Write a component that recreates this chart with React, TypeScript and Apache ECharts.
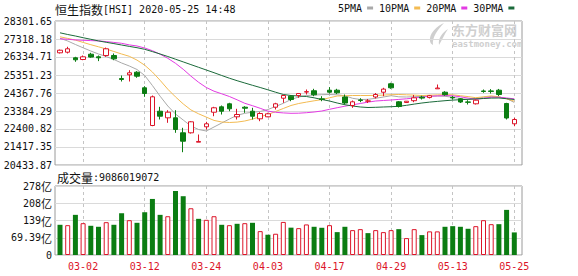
import React, { useEffect, useRef } from "react";
import * as echarts from "echarts";

// Trading days (MM-DD), 2020-02-26 .. 2020-05-25
const DATES = [
  "02-26", "02-27", "02-28",
  "03-02", "03-03", "03-04", "03-05", "03-06",
  "03-09", "03-10", "03-11", "03-12", "03-13",
  "03-16", "03-17", "03-18", "03-19", "03-20",
  "03-23", "03-24", "03-25", "03-26", "03-27",
  "03-30", "03-31", "04-01", "04-02", "04-03",
  "04-06", "04-07", "04-08", "04-09",
  "04-14", "04-15", "04-16", "04-17",
  "04-20", "04-21", "04-22", "04-23", "04-24",
  "04-27", "04-28", "04-29",
  "05-04", "05-05", "05-06", "05-07", "05-08",
  "05-11", "05-12", "05-13", "05-14", "05-15",
  "05-18", "05-19", "05-20", "05-21", "05-22",
  "05-25",
];

const OPEN = [
  26564, 26597, 26291, 26198, 26488, 26345, 26417, 26417, 25160, 25362,
  25504, 24652, 22592, 23373, 23012, 23012, 22193, 22193, 21680, 22521,
  23318, 23613, 23777, 23067, 23592, 23373, 22958, 23067, 23592, 24083,
  24193, 24231, 24420, 24490, 24051, 24521, 24521, 24150, 23684, 23990,
  23920, 24150, 24411, 24870, 23887, 23850, 23947, 24140, 24120, 24597,
  24411, 24130, 24051, 23880, 23777, 24480, 24480, 24521, 23794, 22685,
];
const CLOSE = [
  26706, 26783, 26182, 26345, 26330, 26291, 26783, 26236, 25105, 25471,
  25286, 24340, 24160, 23100, 23318, 22373, 21734, 22794, 21720, 22685,
  23559, 23373, 23504, 23193, 23537, 23100, 23247, 23231, 23777, 24231,
  24012, 24340, 24440, 24269, 24012, 24411, 24379, 23820, 23887, 23958,
  23935, 24286, 24580, 24652, 23630, 23919, 24105, 24090, 24220, 24640,
  24275, 24100, 23876, 23860, 23974, 24450, 24455, 24286, 23001, 22920,
];
const LOW = [
  26526, 26526, 26072, 26160, 26291, 26110, 26345, 26160, 24996, 24996,
  25200, 24160, 22554, 22920, 22739, 22193, 21133, 22150, 21680, 22373,
  23100, 23193, 23373, 22920, 23285, 22920, 22827, 23050, 23466, 23832,
  23919, 24105, 24286, 24193, 23919, 24340, 24310, 23739, 23559, 23865,
  23820, 24067, 24193, 24597, 23575, 23820, 23865, 24012, 24070, 24597,
  24220, 24012, 23820, 23739, 23739, 24379, 24340, 24200, 22920, 22554,
];
const HIGH = [
  26740, 26893, 26345, 26417, 26564, 26417, 26850, 26526, 25324, 25613,
  25560, 24739, 24231, 23613, 23428, 23428, 22466, 22827, 22100, 22794,
  23613, 23684, 23832, 23504, 23646, 23559, 23318, 23285, 23832, 24269,
  24231, 24350, 24559, 24597, 24193, 24690, 24597, 24286, 23958, 24083,
  24040, 24367, 24652, 24925, 23930, 23930, 24260, 24220, 24260, 24832,
  24466, 24200, 24095, 23974, 24012, 24559, 24580, 24590, 23832, 23012,
];

// Turnover per day
const VOLUME = [
  12150000000, 12000000000, 16150000000, 12800000000, 11750000000,
  11350000000, 13200000000, 12150000000, 16800000000, 14000000000,
  12950000000, 17200000000, 22550000000, 16150000000, 15600000000,
  25750000000, 23650000000, 18800000000, 14550000000, 14150000000,
  15600000000, 12150000000, 12000000000, 12550000000, 12800000000,
  12950000000, 9600000000, 8150000000, 8550000000, 13300000000,
  11000000000, 10800000000, 12300000000, 11350000000, 10950000000,
  12000000000, 9200000000, 11350000000, 10000000000, 10400000000,
  8800000000, 10000000000, 9200000000, 10000000000, 10400000000,
  6800000000, 10400000000, 8000000000, 9500000000, 9500000000,
  11350000000, 11600000000, 11350000000, 10550000000, 11600000000,
  14000000000, 12400000000, 12400000000, 18150000000, 9086019072,
];
// 1 = closed above the previous close (hollow red), 0 = below (solid green)
const VOLUME_UP = [
  0, 1, 0, 1, 0, 0, 1, 0, 0, 1,
  0, 0, 0, 0, 1, 0, 0, 1, 0, 1,
  1, 0, 1, 0, 1, 0, 1, 0, 1, 1,
  0, 1, 1, 0, 0, 1, 0, 0, 1, 1,
  0, 1, 1, 1, 0, 1, 1, 0, 1, 1,
  0, 0, 0, 0, 1, 1, 1, 0, 0, 0,
];

const MA5 = [
  27356, 27209, 27018, 26837, 26662, 26499, 26362, 26198, 26007, 25843,
  25652, 25324, 24777, 24193, 23657, 23220, 22892, 22564, 22373, 22291,
  22510, 22728, 22947, 23149, 23258, 23318, 23357, 23466, 23630, 23805,
  24012, 24149, 24231, 24258, 24275, 24286, 24269, 24215, 24078, 24012,
  24023, 24078, 24149, 24220, 24160, 24149, 24165, 24187, 24193, 24204,
  24187, 24133, 24067, 24012, 24067, 24133, 24182, 24149, 24067, 23849,
];
const MA10 = [
  27438, 27351, 27258, 27132, 27007, 26892, 26772, 26635, 26499, 26373,
  26165, 25887, 25515, 25061, 24575, 24154, 23772, 23444, 23231, 23051,
  22870, 22783, 22756, 22778, 22838, 22941, 23073, 23193, 23357, 23521,
  23685, 23794, 23870, 23941, 24007, 24105, 24204, 24215, 24231, 24231,
  24231, 24236, 24253, 24275, 24286, 24269, 24253, 24231, 24247, 24264,
  24280, 24269, 24220, 24171, 24111, 24160, 24209, 24160, 24051, 23920,
];
const MA20 = [
  27329, 27302, 27269, 27247, 27231, 27214, 27176, 27132, 27083, 26996,
  26936, 26826, 26679, 26488, 26264, 25990, 25663, 25291, 24952, 24668,
  24466, 24324, 24176, 23996, 23805, 23674, 23532, 23379, 23313, 23280,
  23258, 23264, 23291, 23329, 23384, 23477, 23564, 23646, 23723, 23794,
  23870, 23930, 23958, 23985, 24018, 24051, 24094, 24144, 24187, 24209,
  24226, 24215, 24160, 24089, 24023, 24078, 24138, 24138, 24094, 24051,
];
const MA30 = [
  27657, 27564, 27482, 27389, 27302, 27214, 27138, 27067, 26990, 26914,
  26843, 26755, 26630, 26499, 26362, 26214, 26067, 25919, 25772, 25624,
  25477, 25324, 25176, 25040, 24914, 24788, 24668, 24542, 24411, 24286,
  24231, 24204, 24176, 24105, 24012, 23930, 23821, 23728, 23657, 23603,
  23575, 23586, 23603, 23619, 23641, 23695, 23761, 23821, 23870, 23909,
  23947, 23980, 24002, 24023, 24045, 24067, 24089, 24094, 24056, 24012,
];

const MA_NAMES = ["5PMA", "10PMA", "20PMA", "30PMA"];
const PRICE_TICKS = [
  20433.87, 21417.35, 22400.82, 23384.29, 24367.76,
  25351.23, 26334.71, 27318.18, 28301.65,
];
const VOLUME_TICKS = [0, 6939000000, 13878000000, 20817000000, 27756000000];
const LABEL_DAYS = [3, 11, 19, 27, 35, 43, 51, 59];

const TITLE_NAME = "恒生指数";
const TITLE_CODE = "[HSI] 2020-05-25 14:48";
const VOLUME_TITLE = "成交量";

const RED = "#dc1428";
const GREEN = "#0b7d12";
const MA_COLORS = ["#a9a9a9", "#f3bb52", "#e33be3", "#1b6a3a"];
const MONO = "'DejaVu Sans Mono', monospace";
const CJK = "'Noto Sans CJK SC', sans-serif";
const WATERMARK = "#cfcfcf";

// brush-stroke mark next to the site name
echarts.graphic.registerShape(
  "emLogo",
  echarts.graphic.extendPath(
    "M16 0 C9 3 3 9 2 15 C1.5 19 3 21 5 22 C4 15 9 7 16 0 Z M20 6 C14 10 10 15 11 22 C14 17 16 12 20 6 Z",
    {}
  )
);

function volumeLabel(v: number): string {
  if (v === 0) return "{n|0}";
  const yi = v / 1e8;
  const txt = yi < 100 ? yi.toFixed(2) : String(Math.round(yi));
  return `{n|${txt}}{c|亿}`;
}

export default function App() {
  const ref = useRef<HTMLDivElement>(null);

  useEffect(() => {
    document.body.style.margin = "0";
    const chart = echarts.init(ref.current!, null, { renderer: "svg" });

    const candles = DATES.map((_, i) => [i, OPEN[i], CLOSE[i], LOW[i], HIGH[i]]);
    const maSeries = [MA5, MA10, MA20, MA30].map((arr, k) => ({
      name: MA_NAMES[k],
      type: "line",
      xAxisIndex: 0,
      yAxisIndex: 0,
      data: arr.map((v, i) => [i, v]),
      symbol: "none",
      showSymbol: false,
      silent: true,
      z: 2,
      lineStyle: { width: 1, color: MA_COLORS[k] },
      itemStyle: { color: MA_COLORS[k] },
    }));
    const volumeData = VOLUME.map((v, i) => ({
      value: [i, v],
      itemStyle: VOLUME_UP[i]
        ? { color: "#ffffff", borderColor: RED, borderWidth: 1 }
        : { color: GREEN, borderColor: GREEN, borderWidth: 0 },
    }));

    const xAxis = (gridIndex: number, showLabel: boolean) => ({
      type: "value",
      gridIndex,
      min: -0.65,
      max: 60,
      axisLine: { show: false },
      axisTick: { show: false, customValues: LABEL_DAYS },
      axisLabel: {
        show: showLabel,
        customValues: LABEL_DAYS,
        formatter: (v: number) => DATES[Math.round(v)],
        color: RED,
        fontFamily: MONO,
        fontSize: 10,
        margin: 6,
      },
      splitLine: {
        show: true,
        lineStyle: { color: "#c4c4c4", width: 1, type: [3, 3] },
      },
    });

    const option = {
      animation: false,
      backgroundColor: "#ffffff",
      textStyle: { fontFamily: MONO },
      legend: {
        data: MA_NAMES,
        left: 338,
        top: 3,
        padding: 0,
        align: "right",
        icon: "rect",
        itemWidth: 6,
        itemHeight: 3,
        itemGap: 6,
        selectedMode: false,
        textStyle: { fontFamily: MONO, fontSize: 10, color: "#111" },
      },
      grid: [
        {
          left: 55, top: 21, width: 467, height: 144,
          show: true, borderColor: "#9a9a9a", borderWidth: 1,
          outerBoundsMode: "none",
        },
        {
          left: 55, top: 186, width: 467, height: 69,
          show: true, borderColor: "#9a9a9a", borderWidth: 1,
          outerBoundsMode: "none",
        },
      ],
      xAxis: [xAxis(0, false), xAxis(1, true)],
      yAxis: [
        {
          type: "value",
          gridIndex: 0,
          min: PRICE_TICKS[0],
          max: PRICE_TICKS[PRICE_TICKS.length - 1],
          axisLine: { show: false },
          axisTick: { show: false, customValues: PRICE_TICKS },
          axisLabel: {
            customValues: PRICE_TICKS,
            formatter: (v: number) => v.toFixed(2),
            color: "#111",
            fontFamily: MONO,
            fontSize: 10,
            margin: 3,
          },
          splitLine: { show: true, lineStyle: { color: "#dadada", width: 1 } },
        },
        {
          type: "value",
          gridIndex: 1,
          min: VOLUME_TICKS[0],
          max: VOLUME_TICKS[VOLUME_TICKS.length - 1],
          axisLine: { show: false },
          axisTick: { show: false, customValues: VOLUME_TICKS },
          axisLabel: {
            customValues: VOLUME_TICKS,
            formatter: volumeLabel,
            margin: 3,
            rich: {
              n: { fontFamily: MONO, fontSize: 10, color: "#111" },
              c: { fontFamily: CJK, fontSize: 11, color: "#111" },
            },
          },
          splitLine: { show: true, lineStyle: { color: "#dadada", width: 1 } },
        },
      ],
      series: [
        ...maSeries,
        {
          name: "K",
          type: "candlestick",
          xAxisIndex: 0,
          yAxisIndex: 0,
          data: candles,
          barWidth: 5,
          z: 3,
          itemStyle: {
            color: "#ffffff",
            color0: GREEN,
            borderColor: RED,
            borderColor0: GREEN,
            borderWidth: 1,
          },
        },
        {
          name: VOLUME_TITLE,
          type: "bar",
          xAxisIndex: 1,
          yAxisIndex: 1,
          data: volumeData,
          barWidth: 5,
        },
      ],
      graphic: [
        {
          type: "text",
          x: 55,
          y: 9,
          style: {
            text: `{cn|${TITLE_NAME}}{en|${TITLE_CODE}}`,
            verticalAlign: "middle",
            rich: {
              cn: { fontFamily: CJK, fontSize: 12, fill: "#111" },
              en: { fontFamily: MONO, fontSize: 10, fill: "#111" },
            },
          },
        },
        {
          type: "text",
          x: 57,
          y: 177,
          style: {
            text: `{cn|${VOLUME_TITLE}}{en|:${VOLUME[VOLUME.length - 1]}}`,
            verticalAlign: "middle",
            rich: {
              cn: { fontFamily: CJK, fontSize: 12, fill: "#111" },
              en: { fontFamily: MONO, fontSize: 10, fill: "#111" },
            },
          },
        },
        {
          type: "group",
          silent: true,
          children: [
            {
              type: "emLogo",
              x: 428,
              y: 23,
              style: { fill: WATERMARK },
            },
            {
              type: "text",
              x: 452,
              y: 29,
              style: {
                text: "东方财富网",
                fontFamily: CJK,
                fontSize: 13,
                lineHeight: 12,
                fontWeight: "bold",
                fill: WATERMARK,
                verticalAlign: "middle",
              },
            },
            {
              type: "text",
              x: 452,
              y: 43.5,
              style: {
                text: "eastmoney.com",
                fontFamily: MONO,
                fontSize: 9,
                lineHeight: 8,
                fontWeight: "bold",
                fill: WATERMARK,
                verticalAlign: "middle",
              },
            },
          ],
        },
      ],
    };

    chart.setOption(option as any);
    return () => chart.dispose();
  }, []);

  return <div ref={ref} style={{ width: 578, height: 276 }} />;
}
